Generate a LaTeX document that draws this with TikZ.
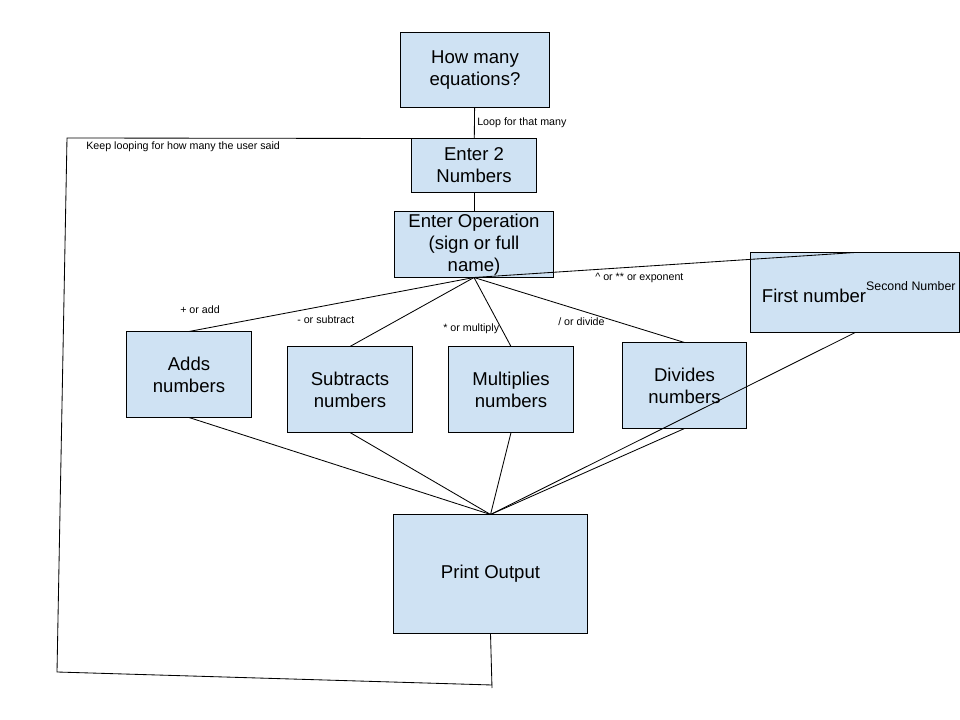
\documentclass[tikz,border=0pt]{standalone}
\usepackage{fontspec}
\setmainfont{Liberation Sans}
\definecolor{boxblue}{HTML}{CFE2F3}
\tikzset{
  box/.style={draw, fill=boxblue, line width=0.7pt, align=center, inner sep=0pt,
    font=\fontsize{13.2}{15.8}\selectfont},
  lbl/.style={inner sep=0pt, font=\fontsize{7.6}{9}\selectfont},
  wire/.style={line width=0.6pt}
}
\begin{document}
\begin{tikzpicture}[x=0.025cm,y=-0.025cm]
\useasboundingbox (0,0) rectangle (960,720);
\node[box, minimum width=3.7cm, minimum height=1.85cm] (ask) at (475,70) {How many\\equations?};
\node[box, minimum width=3.1cm, minimum height=1.325cm] (enter) at (474,165.5) {Enter 2\\Numbers};
\node[box, minimum width=3.95cm, minimum height=1.625cm] (oper) at (474,244.5) {Enter Operation\\(sign or full\\name)};
\node[box, minimum width=3.1cm, minimum height=2.125cm] (adds) at (189,374.5) {Adds\\numbers};
\node[box, minimum width=3.1cm, minimum height=2.125cm] (subs) at (350,389.5) {Subtracts\\numbers};
\node[box, minimum width=3.1cm, minimum height=2.125cm] (mult) at (511,389.5) {Multiplies\\numbers};
\node[box, minimum width=3.075cm, minimum height=2.125cm] (divi) at (684.5,385.5) {Divides\\numbers};
\node[box, minimum width=5.2125cm, minimum height=1.975cm] (expo) at (855.25,292.5)
  {\hspace*{5pt}First number\raisebox{8.5pt}{\fontsize{8.8}{11}\selectfont Second Number}};
\node[box, minimum width=4.825cm, minimum height=2.95cm] (print) at (490.5,574) {Print Output};
% loop corners
\coordinate (L1) at (492,688);
\coordinate (L2) at (492,685);
\coordinate (L3) at (57,672);
\coordinate (L4) at (67,138);
% connectors
\draw[wire] (ask) -- (enter);
\draw[wire] (enter) -- (oper);
\draw[wire] (oper.south) -- (adds.north);
\draw[wire] (oper.south) -- (subs.north);
\draw[wire] (oper.south) -- (mult.north);
\draw[wire] (oper.south) -- (divi.north);
\draw[wire] (oper.south) -- (expo.north);
\draw[wire] (adds.south) -- (print.north);
\draw[wire] (subs.south) -- (print.north);
\draw[wire] (mult.south) -- (print.north);
\draw[wire] (divi.south) -- (print.north);
\draw[wire] (expo.south) -- (print.north);
\draw[wire] (print.south) -- (L1);
\draw[wire] (L2) -- (L3) -- (L4) -- (enter.north west);
% labels
\node[lbl, anchor=west] (loopa) at (477,123) {Loop for that many};
\node[lbl, anchor=west] (loopb) at (86,147) {Keep looping for how many the user said};
\node[lbl, anchor=west] (opadd) at (180,310) {+ or add};
\node[lbl, anchor=west] (opsub) at (297,320) {- or subtract};
\node[lbl, anchor=west] (opmul) at (443,329) {* or multiply};
\node[lbl, anchor=west] (opdiv) at (558,322) {/ or divide};
\node[lbl, anchor=west] (opexp) at (595,278) {\^{} or ** or exponent};
\end{tikzpicture}
\end{document}
